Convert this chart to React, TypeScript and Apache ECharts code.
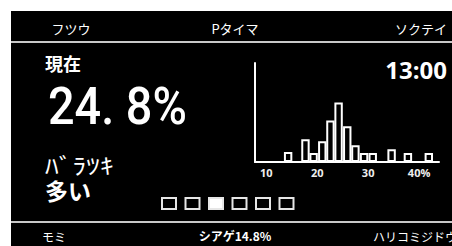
import React, { useEffect, useRef } from "react";
import * as echarts from "echarts";

// Histogram data (bin centre in %, relative frequency)
const binCenters = [14.3, 17.7, 19.3, 21.0, 22.6, 24.2, 25.9, 27.5, 29.2, 30.9, 34.6, 37.8, 41.9];
const binHeights = [10, 23, 9, 21, 42, 60, 36, 17, 9, 9, 13, 9, 9];
const xTicks = [10, 20, 30, 40];

const topLabels = ["フツウ", "Pタイマ", "ソクテイ"];
const bottomLabels = ["モミ", "シアゲ14.8%", "ハリコミジドウ"];
const currentLabel = "現在";
const currentValue = "24. 8%";
const spreadLabel = "ﾊﾞﾗﾂｷ";
const spreadValue = "多い";
const timeLabel = "13:00";
const pageCount = 6;
const activePage = 2;

export default function App() {
  const ref = useRef<HTMLDivElement>(null);
  useEffect(() => {
    document.body.style.margin = "0";
    const chart = echarts.init(ref.current!, null, { renderer: "svg" });
    const jp = '"Noto Sans CJK JP", sans-serif';
    const squares: any[] = [];
    for (let i = 0; i < pageCount; i++) {
      squares.push({
        type: "rect",
        shape: { x: 162 + i * 23.5, y: 198, width: 14, height: 11 },
        style: { fill: i === activePage ? "#fff" : "#000", stroke: "#e6e6e6", lineWidth: 2 },
        z: 10,
      });
    }
    chart.setOption({
      animation: false,
      backgroundColor: "#fff",
      graphic: [
        { type: "rect", shape: { x: 11, y: 11, width: 441, height: 235 }, style: { fill: "#000" }, z: -10 },
        { type: "line", shape: { x1: 11, y1: 42, x2: 452, y2: 42 }, style: { stroke: "#c8c8c8", lineWidth: 2 }, z: 5 },
        { type: "line", shape: { x1: 11, y1: 222, x2: 452, y2: 222 }, style: { stroke: "#c8c8c8", lineWidth: 2 }, z: 5 },
        { type: "text", x: 71, y: 28, style: { text: topLabels[0], fill: "#fff", font: `13px ${jp}`, align: "center", verticalAlign: "middle" }, z: 10 },
        { type: "text", x: 235, y: 28, style: { text: topLabels[1], fill: "#fff", font: `13px ${jp}`, align: "center", verticalAlign: "middle" }, z: 10 },
        { type: "text", x: 447, y: 28, style: { text: topLabels[2], fill: "#fff", font: `13px ${jp}`, align: "right", verticalAlign: "middle" }, z: 10 },
        { type: "text", x: 54, y: 236, style: { text: bottomLabels[0], fill: "#fff", font: `12px ${jp}`, align: "center", verticalAlign: "middle" }, z: 10 },
        { type: "text", x: 235, y: 235, style: { text: bottomLabels[1], fill: "#fff", font: `bold 12px ${jp}`, align: "center", verticalAlign: "middle" }, z: 10 },
        { type: "text", x: 373, y: 236, style: { text: bottomLabels[2], fill: "#fff", font: `12px ${jp}`, align: "left", verticalAlign: "middle" }, z: 10 },
        { type: "text", x: 45, y: 63, style: { text: currentLabel, fill: "#fff", font: `bold 18px ${jp}`, align: "left", verticalAlign: "middle" }, z: 10 },
        { type: "text", x: 48, y: 106, scaleX: 0.9, style: { text: currentValue, fill: "#fff", font: `500 52px Roboto, sans-serif`, align: "left", verticalAlign: "middle" }, z: 10 },
        { type: "text", x: 45, y: 164, scaleX: 1.25, style: { text: spreadLabel, fill: "#fff", font: `22px ${jp}`, align: "left", verticalAlign: "middle" }, z: 10 },
        { type: "text", x: 45, y: 190, style: { text: spreadValue, fill: "#fff", font: `bold 23px ${jp}`, align: "left", verticalAlign: "middle" }, z: 10 },
        { type: "text", x: 447, y: 69, style: { text: timeLabel, fill: "#fff", font: `bold 24px "Open Sans", sans-serif`, align: "right", verticalAlign: "middle" }, z: 10 },
        ...squares,
      ],
      grid: { left: 255, right: 13, top: 63, bottom: 84 },
      xAxis: {
        type: "value",
        min: 7.8,
        max: 43.9,
        axisLine: { show: true, lineStyle: { color: "#fff", width: 2 } },
        axisTick: { show: false },
        splitLine: { show: false },
        axisLabel: {
          customValues: xTicks,
          color: "#eee",
          fontSize: 11,
          fontWeight: "bold",
          fontFamily: "Open Sans, sans-serif",
          margin: 5,
          formatter: (v: number) => (v === 40 ? "40%" : String(v)),
        },
      },
      yAxis: {
        type: "value",
        min: 0,
        max: 100,
        axisLine: { show: true, lineStyle: { color: "#fff", width: 2 } },
        axisTick: { show: false },
        axisLabel: { show: false },
        splitLine: { show: false },
      },
      series: [
        {
          type: "bar",
          barWidth: 8.4,
          data: binCenters.map((c, i) => [c, binHeights[i]]),
          itemStyle: { color: "#000", borderColor: "#fff", borderWidth: 2 },
          z: 3,
        },
      ],
    });
    return () => chart.dispose();
  }, []);
  return <div ref={ref} style={{ width: 452, height: 246 }} />;
}
